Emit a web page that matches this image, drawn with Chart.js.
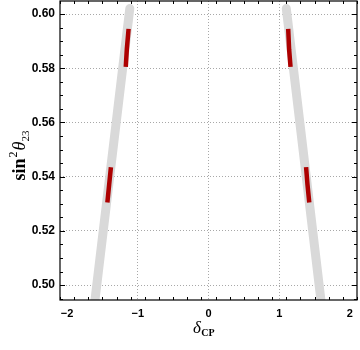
<!DOCTYPE html>
<html>
<head>
<meta charset="utf-8">
<script src="https://cdn.jsdelivr.net/npm/chart.js@4"></script>
<style>
html, body { margin: 0; padding: 0; background: #fff; }
</style>
</head>
<body>
<canvas id="chart" width="360" height="350"></canvas>
<script>
// tick labels
const xTicks = [-2, -1, 0, 1, 2];
const yTicks = [0.50, 0.52, 0.54, 0.56, 0.58, 0.60];

// grey allowed bands (delta_CP, sin^2 theta23)
const bandLeft = [{x: -1.626, y: 0.490}, {x: -1.113, y: 0.602}];
const bandRight = [{x: 1.610, y: 0.490}, {x: 1.100, y: 0.602}];

// red segments
const redLeftLow = [{x: -1.430, y: 0.5305}, {x: -1.405, y: 0.537}, {x: -1.380, y: 0.5435}];
const redLeftHigh = [{x: -1.170, y: 0.5805}, {x: -1.155, y: 0.587}, {x: -1.130, y: 0.5945}];
const redRightHigh = [{x: 1.127, y: 0.5945}, {x: 1.140, y: 0.587}, {x: 1.160, y: 0.5805}];
const redRightLow = [{x: 1.380, y: 0.5435}, {x: 1.400, y: 0.537}, {x: 1.425, y: 0.5305}];

const GREY = "#d9d9d9";
const RED = "#ad0000";

function band(data) {
    return {
        data: data,
        showLine: true,
        borderColor: GREY,
        borderWidth: 9,
        borderCapStyle: 'round',
        pointRadius: 0,
        order: 2,
    };
}
function seg(data) {
    return {
        data: data,
        showLine: true,
        borderColor: RED,
        borderWidth: 4.5,
        borderCapStyle: 'butt',
        pointRadius: 0,
        order: 1,
    };
}

// frame with inward ticks, plus axis titles
const framePlugin = {
    id: 'frame',
    afterDraw(chart) {
        const ctx = chart.ctx;
        const a = chart.chartArea;
        const xs = chart.scales.x, ys = chart.scales.y;
        ctx.save();
        ctx.strokeStyle = "#000";
        ctx.lineWidth = 1.2;
        ctx.strokeRect(a.left, a.top, a.right - a.left, a.bottom - a.top);

        ctx.lineWidth = 1;
        ctx.beginPath();
        for (let i = -21; i <= 21; i += 2) {
            const v = i / 10;
            if (v < xs.min || v > xs.max) continue;
            const len = (i % 10 === 0) ? 5 : 3;
            const px = Math.round(xs.getPixelForValue(v)) + 0.5;
            ctx.moveTo(px, a.bottom); ctx.lineTo(px, a.bottom - len);
            ctx.moveTo(px, a.top); ctx.lineTo(px, a.top + len);
        }
        for (let i = 99; i <= 121; i++) {
            const v = i / 200;
            if (v < ys.min || v > ys.max) continue;
            const len = (i % 4 === 0) ? 5 : 3;
            const py = Math.round(ys.getPixelForValue(v)) + 0.5;
            ctx.moveTo(a.left, py); ctx.lineTo(a.left + len, py);
            ctx.moveTo(a.right, py); ctx.lineTo(a.right - len, py);
        }
        ctx.stroke();

        ctx.fillStyle = "#000";
        ctx.textBaseline = "alphabetic";
        ctx.textAlign = "left";

        // x title: delta_CP
        const f1 = "italic 17px 'Liberation Serif'";
        const f2 = "bold 10px 'Liberation Serif'";
        ctx.font = f1; const w1 = ctx.measureText("δ").width;
        ctx.font = f2; const w2 = ctx.measureText("CP").width;
        const cx = (a.left + a.right) / 2 - 5;
        let x0 = cx - (w1 + w2) / 2;
        ctx.font = f1; ctx.fillText("δ", x0, 333);
        ctx.font = f2; ctx.fillText("CP", x0 + w1 + 0.5, 336);

        // y title: sin^2 theta_23
        const parts = [
            {t: "sin", f: "bold 18px 'Liberation Serif'", dy: 0, gap: 1},
            {t: "2", f: "12px 'Liberation Serif'", dy: -8, gap: 1},
            {t: "θ", f: "italic 18px 'Liberation Serif'", dy: 0, gap: 0},
            {t: "23", f: "11px 'Liberation Serif'", dy: 4, gap: 0},
        ];
        let total = 0;
        parts.forEach(p => { ctx.font = p.f; p.w = ctx.measureText(p.t).width; total += p.w + p.gap; });
        ctx.translate(25, (a.top + a.bottom) / 2 + 5);
        ctx.rotate(-Math.PI / 2);
        let px = -total / 2;
        parts.forEach(p => { ctx.font = p.f; ctx.fillText(p.t, px, p.dy); px += p.w + p.gap; });
        ctx.restore();
    }
};

new Chart(document.getElementById("chart").getContext("2d"), {
    type: 'scatter',
    data: {
        datasets: [
            seg(redLeftLow), seg(redLeftHigh), seg(redRightHigh), seg(redRightLow),
            band(bandLeft), band(bandRight),
        ]
    },
    options: {
        responsive: false,
        animation: false,
        layout: { padding: { top: 1, right: 3, left: 0, bottom: 0 } },
        plugins: {
            legend: { display: false },
            tooltip: { enabled: false },
        },
        scales: {
            x: {
                type: 'linear',
                min: -2.1,
                max: 2.1,
                afterBuildTicks: s => { s.ticks = xTicks.map(v => ({value: v})); },
                afterFit: s => { s.height = 50; s.paddingLeft = 0; s.paddingRight = 0; },
                grid: {
                    drawTicks: false,
                    lineWidth: 1,
                    color: c => (c.tick && Math.abs(c.tick.value) === 2) ? 'rgba(0,0,0,0)' : '#a8a8a8',
                },
                border: { display: false, dash: [1, 2] },
                ticks: {
                    color: "#000",
                    padding: 7,
                    maxRotation: 0,
                    font: { family: "'Liberation Sans', Arial", size: 11, weight: 'bold' },
                    callback: v => String(v).replace("-", "\u2212"),
                },
            },
            y: {
                type: 'linear',
                min: 0.4945,
                max: 0.6048,
                afterBuildTicks: s => { s.ticks = yTicks.map(v => ({value: v})); },
                afterFit: s => { s.width = 60; s.paddingTop = 0; s.paddingBottom = 0; },
                grid: {
                    drawTicks: false,
                    lineWidth: 1,
                    color: '#a8a8a8',
                },
                border: { display: false, dash: [1, 2] },
                ticks: {
                    color: "#000",
                    padding: 5,
                    font: { family: "'Liberation Sans', Arial", size: 12, weight: 'bold' },
                    callback: v => v.toFixed(2),
                },
            },
        },
    },
    plugins: [framePlugin],
});
</script>
</body>
</html>
